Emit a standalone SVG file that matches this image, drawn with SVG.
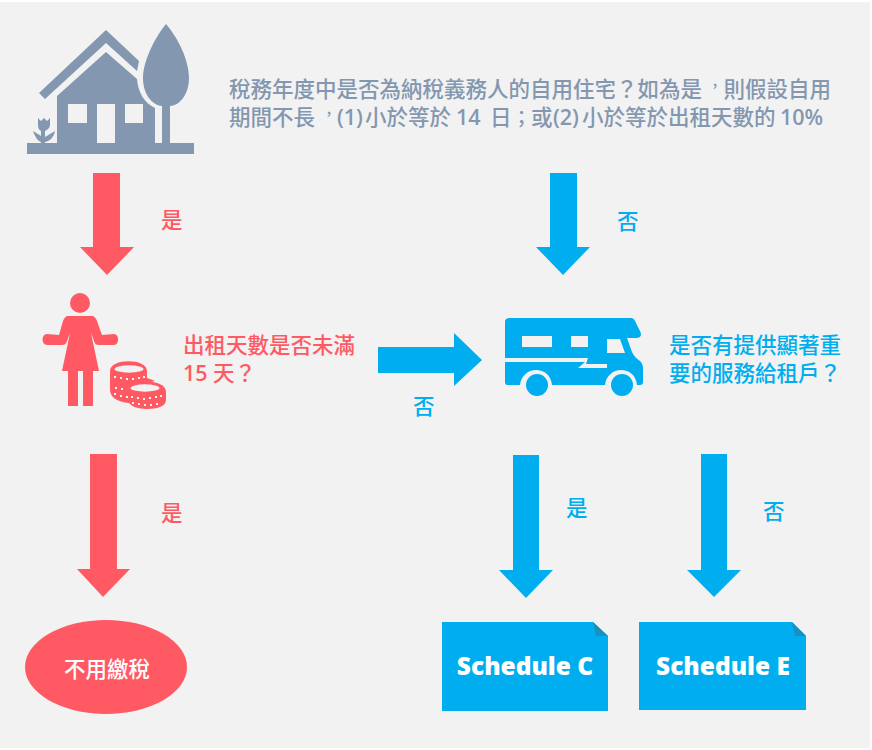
<svg xmlns="http://www.w3.org/2000/svg" width="872" height="750" viewBox="0 0 872 750" lang="zh-TW">
<style>
text{font-family:"Noto Sans CJK TC","Open Sans",sans-serif;font-weight:500}
.g{fill:#8497B0}.r{fill:#FF5A64}.b{fill:#00AEEF}
.t{font-size:21.500px}
.c{font-size:14px}
.d{font-size:19px}
.l{font-family:"Open Sans","Noto Sans CJK TC",sans-serif;font-weight:600;font-size:21.500px}
.s{font-family:"Open Sans",sans-serif;font-size:24.500px;font-weight:800;fill:#fff;text-anchor:middle}
.w{fill:#F2F2F2}
</style>
<rect width="872" height="750" fill="#fff"/>
<rect x="0" y="2" width="870" height="746" fill="#F2F2F2"/>
<g id="house" class="g">
<path d="M39 93L106 30L139 61L137 71L106 43L45 99Z"/>
<path d="M57 96L106 52L137 79C138 92 144 103 155 108V143H57Z"/>
<rect x="27" y="143" width="167" height="11"/>
<path d="M166 24C178 38 189 60 189 78C189 95 179 106 170 106V143H162V106C152 105 143 94 143 78C143 60 156 36 166 24Z"/>
<path d="M38 118L41 121L44 118L47 121L50 118V125C50 128 47 130 45 131V137L55 131C54 137 50 141 45 142V143H41V142C38 141 35 137 33 131L41 136V131C39 130 38 128 38 125Z"/>
<g class="w"><rect x="68" y="104" width="19" height="19"/><rect x="97" y="104" width="18" height="39"/><rect x="125" y="104" width="18" height="19"/></g>
</g>
<text id="question" class="t" fill="#8497B0"><tspan x="229" y="97">稅務年度中是否為納稅義務人的自用住宅？如為是</tspan><tspan class="c" x="708" y="91">，</tspan><tspan x="723.500" y="97">則假設自用</tspan><tspan x="229" y="125">期間不長</tspan><tspan class="c" x="322" y="119">，</tspan><tspan class="l" x="337" y="125">(1)</tspan><tspan x="365" y="125">小於等於</tspan><tspan class="l" x="456" y="125">14</tspan><tspan x="490" y="125">日</tspan><tspan class="d" x="512" y="125">；</tspan><tspan x="531" y="125">或</tspan><tspan class="l" x="553" y="125">(2)</tspan><tspan x="582" y="125">小於等於出租天數的</tspan><tspan class="l" x="780" y="125">10%</tspan></text>
<g id="connectors">
<path class="r" d="M93 173H120V247H134L107 275L80 247H93Z"/>
<path class="b" d="M550 173H577V247H590L563 275L536 247H550Z"/>
<path class="b" d="M378 347H454V333L482 360L454 386V373H378Z"/>
<path class="r" d="M90 454H117V569H130L103 597L77 569H90Z"/>
<path class="b" d="M513 455H539V570H553L526 598L499 570H513Z"/>
<path class="b" d="M701 454H727V570H741L714 597L687 570H701Z"/>
</g>
<g id="labels" class="t">
<text x="161" y="228" fill="#FF5A64">是</text>
<text x="617" y="229" fill="#00AEEF">否</text>
<text x="413" y="414" fill="#00AEEF">否</text>
<text x="161" y="521" fill="#FF5A64">是</text>
<text x="566" y="516" fill="#00AEEF">是</text>
<text x="763" y="519" fill="#00AEEF">否</text>
</g>
<g id="person" class="r">
<circle cx="80" cy="303" r="10"/>
<path d="M68 316H92C94 316 96 318 97 321L102 335L114 334C119.500 334 119.500 345 114 345L99 345C96 345 95 344 94 341L91 333L99 371H93V406H83V371H78V406H68V371H62L70 333L67 341C66 344 65 345 62 345L47 345C41 345 41 334 47 334L59 335L63 321C64 318 66 316 68 316Z"/>
<path d="M110 371C110 358 147 358 147 371V378C150 379 153 380 155 381L144 384C136 385 130 390 129 396L129 403C117 402 110 397 110 390Z"/>
<path d="M128 392C128 378 166 378 166 392V400C166 406 158 409 147 409C136 409 128 405 128 400Z"/>
<g class="w"><ellipse cx="129" cy="369" rx="14.500" ry="3.700"/><ellipse cx="145" cy="388" rx="14.500" ry="3.700"/>
<path d="M114 376h2v2h-2zM120 377h2v2h-2zM126 378h2v2h-2zM132 378h2v2h-2zM138 377h2v2h-2zM143 376h2v2h-2zM115 387h2v2h-2zM121 388h2v2h-2zM114 393h2v2h-2zM120 395h2v2h-2zM126 396h2v2h-2zM131 396h2v2h-2zM137 397h2v2h-2zM143 398h2v2h-2zM149 397h2v2h-2zM155 396h2v2h-2zM160 395h2v2h-2zM132 402h2v2h-2zM138 403h2v2h-2zM144 404h2v2h-2zM150 404h2v2h-2zM156 403h2v2h-2z"/></g>
</g>
<text id="q2" class="t" fill="#FF5A64"><tspan x="183" y="353">出租天數是否未滿</tspan><tspan class="l" x="183" y="381">15</tspan><tspan x="213" y="381">天？</tspan></text>
<g id="rv" class="b">
<path d="M510 318H631C633 318 634 319 635 321L640 331C642 335 641 338 636 338H627L632 352C634 356 636 358 640 361C642 363 643 365 643 368V382C643 384 642 385 640 385H637C636 375 629 370 621 370C613 370 606 376 605 385H552C551 375 544 370 536 370C528 370 521 376 520 385H507C506 385 505 384 505 382V362H585L578 368H607V364H586L588 358H505V322C505 319 507 318 510 318Z"/>
<circle cx="537" cy="385" r="11"/><circle cx="622" cy="385" r="11"/>
<g class="w"><rect x="522" y="336" width="30" height="11"/><rect x="571" y="336" width="17" height="11"/><path d="M607 339H620L625 353H607Z"/></g>
</g>
<text id="q3" class="t" fill="#00AEEF"><tspan x="669" y="353">是否有提供顯著重</tspan><tspan x="669" y="381">要的服務給租戶？</tspan></text>
<g id="no-tax"><ellipse class="r" cx="106" cy="667" rx="81" ry="47"/><text x="107" y="677" font-size="21.500" fill="#fff" text-anchor="middle">不用繳稅</text></g>
<g id="schedule-c"><path class="b" d="M442 622H593L608 636V711H442Z"/><path d="M593 622L608 636H596Z" fill="#1B8FBD"/><text class="s" x="525" y="675">Schedule C</text></g>
<g id="schedule-e"><path class="b" d="M639 622H792L806 636V710H639Z"/><path d="M792 622L806 636H795Z" fill="#1B8FBD"/><text class="s" x="723" y="675">Schedule E</text></g>
</svg>
